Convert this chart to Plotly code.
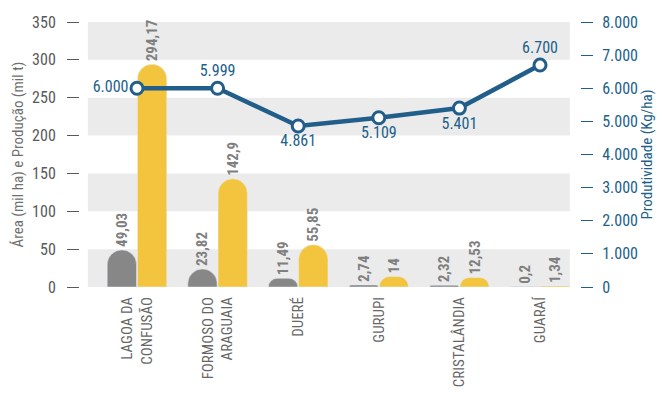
import plotly.graph_objects as go

municipios = ['LAGOA DA<br>CONFUSÃO', 'FORMOSO DO<br>ARAGUAIA', 'DUERÉ', 'GURUPI',
              'CRISTALÂNDIA', 'GUARAÍ']
area = [49.03, 23.82, 11.49, 2.74, 2.32, 0.2]
producao = [294.17, 142.9, 55.85, 14, 12.53, 1.34]
produtividade = [6000, 5999, 4861, 5109, 5401, 6700]
left_ticks = [0, 50, 100, 150, 200, 250, 300, 350]
right_ticks = [0, 1000, 2000, 3000, 4000, 5000, 6000, 7000, 8000]

FONT = 'Roboto Condensed, Roboto, sans-serif'
GRAY_TXT = '#7f7f7f'
BLUE = '#215f8a'


def br(v):
    # decimal comma, like the original
    return ('%g' % v).replace('.', ',')


def milhar(v):
    return f'{v:,}'.replace(',', '.')


x_idx = list(range(len(municipios)))

fig = go.Figure()

fig.add_trace(go.Bar(
    x=x_idx, y=area, name='Área',
    marker=dict(color='#878787', cornerradius=15),
    text=[br(v) for v in area], textposition='outside', textangle=-90,
    textfont=dict(family=FONT, size=15, color=GRAY_TXT, weight='bold'),
    constraintext='none', cliponaxis=False,
))
fig.add_trace(go.Bar(
    x=x_idx, y=producao, name='Produção',
    marker=dict(color='#f3c53f', cornerradius=15),
    text=[br(v) for v in producao], textposition='outside', textangle=-90,
    textfont=dict(family=FONT, size=15, color=GRAY_TXT, weight='bold'),
    constraintext='none', cliponaxis=False,
))
fig.add_trace(go.Scatter(
    x=x_idx, y=produtividade, yaxis='y2', name='Produtividade',
    mode='lines+markers+text',
    line=dict(color=BLUE, width=4.5),
    marker=dict(size=12, color='white', line=dict(color=BLUE, width=3)),
    text=[milhar(v) for v in produtividade],
    textposition=['middle left', 'top center', 'bottom center', 'bottom center',
                  'bottom center', 'top center'],
    textfont=dict(family=FONT, size=16, color=BLUE),
    cliponaxis=False,
))

# faixas cinza de fundo
for y0 in [0, 100, 200, 300]:
    fig.add_shape(type='rect', xref='x', yref='y', x0=-0.61, x1=5.37,
                  y0=y0, y1=y0 + 50, fillcolor='#ebebeb', line_width=0,
                  layer='below')

fig.update_layout(
    width=662, height=404,
    margin=dict(l=80, r=82, t=22, b=117),
    paper_bgcolor='white', plot_bgcolor='white',
    separators=',.',
    showlegend=False,
    barmode='group', bargap=0.25, bargroupgap=0.03,
    font=dict(family=FONT, color='#595959'),
    xaxis=dict(
        range=[-0.707, 5.496], tickmode='array', tickvals=x_idx,
        ticktext=municipios, tickangle=-90, showgrid=False, zeroline=False,
        showline=False, ticks='', automargin=False, ticklabelstandoff=6,
        tickfont=dict(family=FONT, size=15, color='#666666'),
    ),
    yaxis=dict(
        range=[0, 350], tickvals=left_ticks, showgrid=False, zeroline=False,
        ticks='outside', ticklen=12, tickwidth=1.3, tickcolor='#595959',
        ticklabelstandoff=8, automargin=False,
        tickfont=dict(family=FONT, size=16, color='#595959'),
        title=dict(text='Área (mil ha) e Produção (mil t)', standoff=4,
                   font=dict(family=FONT, size=15, color='#6f6f6f')),
    ),
    yaxis2=dict(
        range=[0, 8000], tickvals=right_ticks, tickformat=',d',
        overlaying='y', side='right', showgrid=False, zeroline=False,
        ticks='outside', ticklen=12, tickwidth=1.3, tickcolor=BLUE,
        ticklabelstandoff=6, automargin=False,
        tickfont=dict(family=FONT, size=16, color=BLUE),
        title=dict(text='Produtividade (Kg/ha)', standoff=4,
                   font=dict(family=FONT, size=15, color=BLUE)),
    ),
)

fig.write_html('out.html', config={'displayModeBar': False},
               post_script="document.body.style.margin='0';")
